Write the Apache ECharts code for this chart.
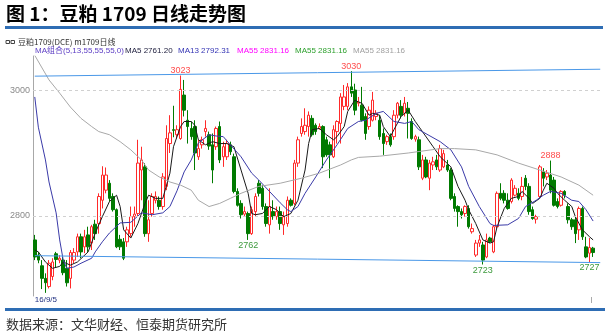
<!DOCTYPE html>
<html><head><meta charset="utf-8">
<script src="https://cdn.jsdelivr.net/npm/echarts@6/dist/echarts.min.js"></script>
<style>html,body{margin:0;padding:0;background:#fff}#c{width:611px;height:335px}</style>
</head><body><div id="c"></div>
<script>
// ---- data ----
// candles: [open, close, low, high]
const candles = [
[2762,2735,2730,2770],[2738,2730,2725,2743],[2721,2701,2684,2730],[2701,2694,2678,2709],[2688,2725,2685,2730],
[2704,2727,2698,2733],[2740,2731,2718,2743],[2730,2733,2725,2738],[2730,2710,2706,2735],[2717,2694,2688,2730],
[2701,2742,2685,2746],[2730,2742,2725,2749],[2743,2767,2735,2772],[2767,2743,2733,2772],[2751,2767,2741,2778],
[2770,2751,2743,2783],[2757,2783,2746,2786],[2787,2772,2762,2794],[2788,2831,2772,2836],[2825,2865,2812,2879],
[2841,2865,2836,2877],[2852,2828,2823,2857],[2831,2810,2807,2836],[2810,2751,2749,2812],[2763,2751,2746,2770],
[2759,2733,2730,2765],[2759,2778,2751,2783],[2772,2799,2767,2815],[2799,2803,2783,2815],[2804,2884,2799,2921],
[2873,2889,2825,2910],[2878,2772,2767,2884],[2772,2794,2759,2825],[2804,2831,2799,2836],[2825,2831,2820,2839],
[2825,2815,2810,2831],[2815,2862,2810,2868],[2847,2923,2841,2944],[2915,2932,2900,2960],[2937,2936,2925,2975],
[2929,2937,2923,2944],[2923,3001,2921,3023],[2992,2968,2958,3016],[2952,2942,2915,2968],[2939,2926,2921,2950],
[2942,2900,2873,2952],[2894,2907,2889,2921],[2913,2921,2907,2926],[2934,2939,2926,2952],[2929,2911,2905,2934],
[2913,2873,2852,2931],[2910,2939,2905,2942],[2942,2889,2884,2950],[2894,2910,2878,2918],[2894,2915,2889,2921],
[2913,2902,2897,2918],[2894,2839,2836,2899],[2839,2817,2815,2844],[2820,2802,2796,2825],[2803,2807,2799,2815],
[2804,2772,2762,2807],[2772,2810,2770,2815],[2807,2831,2799,2836],[2852,2836,2831,2857],[2844,2815,2810,2849],
[2815,2788,2783,2820],[2786,2815,2772,2844],[2807,2799,2794,2825],[2799,2807,2794,2815],[2807,2788,2778,2815],
[2786,2799,2770,2807],[2788,2825,2783,2831],[2825,2817,2815,2828],[2820,2884,2817,2889],[2884,2921,2878,2926],
[2931,2942,2926,2955],[2934,2944,2929,2971],[2942,2960,2926,2966],[2955,2929,2926,2960],[2944,2934,2929,2947],
[2939,2942,2937,2947],[2942,2894,2876,2944],[2921,2897,2894,2926],[2913,2897,2860,2918],[2894,2937,2892,2944],
[2934,2950,2915,2952],[2947,2989,2915,2995],[2974,2989,2968,3008],[2974,3005,2968,3011],[3005,2995,2989,3030],
[3000,2968,2960,3010],[2979,2981,2974,2989],[2976,2952,2950,3005],[2958,2931,2921,2963],[2942,2968,2937,2974],
[2952,2984,2950,2997],[2958,2963,2952,2968],[2952,2926,2921,2960],[2931,2915,2897,2939],[2918,2926,2913,2929],
[2926,2913,2910,2931],[2926,2960,2921,2968],[2960,2979,2955,2981],[2974,2960,2955,2984],[2963,2979,2958,2989],
[2971,2963,2923,2981],[2950,2923,2921,2955],[2922,2926,2918,2929],[2921,2878,2873,2926],[2860,2889,2857,2897],
[2889,2862,2860,2894],[2860,2884,2841,2889],[2881,2886,2873,2894],[2889,2878,2873,2897],[2873,2907,2870,2913],
[2878,2899,2876,2905],[2881,2873,2870,2889],[2873,2828,2825,2876],[2831,2812,2807,2836],[2815,2807,2783,2817],
[2807,2802,2796,2812],[2804,2815,2799,2817],[2812,2783,2780,2817],[2775,2780,2772,2788],[2738,2757,2735,2762],
[2757,2762,2751,2770],[2754,2730,2723,2759],[2735,2762,2733,2772],[2765,2759,2757,2767],[2743,2783,2741,2786],
[2783,2836,2780,2839],[2836,2828,2825,2852],[2836,2825,2820,2841],[2825,2812,2810,2836],[2823,2857,2820,2860],
[2833,2844,2831,2849],[2836,2828,2825,2844],[2831,2847,2825,2862],[2860,2847,2841,2865],[2847,2807,2802,2852],
[2810,2796,2794,2815],[2795,2799,2788,2802],[2831,2878,2828,2881],[2870,2860,2847,2876],[2862,2868,2857,2873],
[2865,2841,2836,2888],[2857,2817,2815,2862],[2823,2815,2812,2828],[2817,2839,2815,2841],[2839,2833,2828,2841],
[2815,2794,2788,2820],[2794,2783,2778,2797],[2794,2772,2757,2799],[2778,2812,2762,2815],[2812,2767,2762,2815],
[2751,2735,2733,2767],[2741,2750,2727,2765],[2749,2742,2735,2751]
];
const emptySlots = 2;
const dateLabels = ['16/9/5'];

// moving averages, read as [candle index, value]
const ma5 = [[0,2746],[1,2743],[3,2727],[5,2717],[7,2720],[8,2727],[10,2722],[12,2727],[15,2743],[17,2773],[19,2799],[21,2823],[23,2833],[24,2815],[25,2778],[27,2765],[29,2788],[31,2820],[32,2833],[34,2828],[36,2828],[38,2868],[39,2910],[41,2942],[42,2950],[44,2950],[45,2944],[46,2921],[48,2913],[50,2918],[52,2915],[54,2915],[56,2910],[58,2873],[60,2836],[61,2804],[62,2802],[64,2804],[66,2815],[68,2810],[69,2804],[70,2799],[72,2804],[74,2825],[76,2873],[77,2915],[78,2937],[80,2939],[82,2929],[84,2921],[85,2926],[87,2942],[88,2966],[90,2984],[91,2981],[92,2979],[94,2960],[95,2963],[97,2960],[98,2942],[100,2926],[101,2937],[103,2958],[105,2968],[107,2950],[109,2934],[112,2910],[114,2894],[117,2878],[119,2847],[121,2825],[122,2810],[124,2788],[126,2762],[128,2757],[129,2759],[130,2783],[132,2812],[134,2828],[136,2831],[137,2839],[139,2828],[140,2820],[142,2828],[143,2841],[144,2852],[146,2844],[147,2836],[149,2825],[151,2815],[152,2799],[154,2778],[156,2767],[157,2762]];
const ma13 = [[0,2989],[1,2941],[3,2889],[4,2854],[6,2805],[7,2762],[8,2730],[9,2717],[11,2719],[13,2725],[16,2733],[17,2743],[19,2759],[21,2773],[24,2789],[27,2790],[30,2805],[33,2802],[36,2805],[38,2815],[40,2840],[42,2870],[44,2889],[46,2916],[49,2929],[51,2927],[53,2926],[55,2913],[58,2894],[61,2868],[63,2857],[66,2839],[69,2821],[71,2810],[72,2807],[74,2815],[76,2836],[79,2862],[82,2889],[85,2913],[88,2939],[91,2950],[93,2952],[96,2963],[98,2966],[101,2950],[104,2947],[106,2950],[108,2937],[114,2918],[117,2905],[120,2878],[122,2847],[125,2815],[128,2788],[129,2785],[133,2786],[136,2796],[138,2815],[141,2825],[143,2833],[145,2839],[148,2836],[151,2825],[153,2823],[155,2810],[157,2792]];
const ma55 = [[0,3055],[4,3016],[7,2995],[10,2973],[13,2955],[16,2942],[18,2934],[21,2929],[24,2918],[27,2905],[30,2889],[32,2873],[35,2862],[38,2854],[41,2849],[44,2841],[46,2825],[49,2815],[52,2820],[55,2828],[58,2836],[63,2847],[69,2852],[75,2860],[80,2868],[86,2881],[89,2889],[91,2893],[97,2895],[105,2900],[114,2907],[118,2907],[124,2905],[130,2897],[136,2884],[142,2873],[148,2862],[153,2849],[157,2833]];

const resistanceLine = [3022, 3033];
const supportLine = [2737, 2726];
const gridValues = [2800, 3000];
const highMarks = [41, 89, 145];
const lowMarks = [60, 126, 156];

const legendTexts = ['MA组合(5,13,55,55,55,0)', 'MA5 2761.20', 'MA13 2792.31', 'MA55 2831.16', 'MA55 2831.16', 'MA55 2831.16'];
const titleText = '图 1：豆粕 1709 日线走势图';
const subTitleText = '豆粕1709(DCE) m1709日线';
const sourceText = '数据来源：文华财经、恒泰期货研究所';

// ---- chart ----
const total = candles.length + emptySlots;
const categories = Array.from({length: total}, (_, i) => dateLabels[i] !== undefined ? dateLabels[i] : '');
const chart = echarts.init(document.getElementById('c'), null, {renderer: 'canvas'});
const CJK = '"Noto Sans CJK SC", sans-serif';
const LAT = '"Liberation Sans","Noto Sans CJK SC", sans-serif';
const legendX = [35, 125, 178, 237, 295, 353];
const legendColors = ['#5b3cc4', '#1c1c3c', '#3434b4', '#ff00ff', '#2ea02e', '#a0a0a0'];

const graphics = [
  {type: 'text', left: 6, top: 4, style: {text: titleText, font: 'bold 19px ' + CJK, fill: '#000'}},
  {type: 'rect', shape: {x: 5, y: 26, width: 598, height: 3}, style: {fill: '#2e6db4'}},
  {type: 'rect', shape: {x: 6, y: 40.5, width: 3.5, height: 3}, style: {fill: 'none', stroke: '#444', lineWidth: 1}},
  {type: 'rect', shape: {x: 11, y: 40.5, width: 3.5, height: 3}, style: {fill: 'none', stroke: '#444', lineWidth: 1}},
  {type: 'text', x: 18, y: 42, style: {text: subTitleText, font: '8px ' + CJK, fill: '#333', verticalAlign: 'middle'}},
  {type: 'rect', shape: {x: 5, y: 308, width: 600, height: 3}, style: {fill: '#2e6db4'}},
  {type: 'text', x: 6, y: 324, style: {text: sourceText, font: '13px ' + CJK, fill: '#333', verticalAlign: 'middle'}},
  {type: 'line', shape: {x1: 591.5, y1: 297, x2: 591.5, y2: 303}, style: {stroke: '#aaa', lineWidth: 1}}
];
legendTexts.forEach((t, i) => {
  graphics.push({type: 'text', x: legendX[i], y: 51, style: {text: t, font: '8px ' + LAT, fill: legendColors[i], verticalAlign: 'middle'}});
});

const markData = [];
highMarks.forEach(i => markData.push({coord: [i, candles[i][3]], value: candles[i][3], label: {offset: [0, -5], color: '#ff4d4d'}}));
lowMarks.forEach(i => markData.push({coord: [i, candles[i][2]], value: candles[i][2], label: {offset: [0, 6], color: '#3d9a3d'}}));

chart.setOption({
  animation: false,
  backgroundColor: '#fff',
  grid: {left: 33, right: 9, top: 56, bottom: 39, containLabel: false},
  xAxis: {
    type: 'category', data: categories, boundaryGap: true,
    axisLine: {show: false}, axisTick: {show: false}, splitLine: {show: false},
    axisLabel: {interval: 0, align: 'left', margin: 0, fontSize: 8, color: '#203080', fontFamily: LAT}
  },
  yAxis: {
    type: 'value', min: 2673, max: 3054, scale: true,
    axisLine: {show: true, lineStyle: {color: '#a8a8a8', width: 1}},
    axisTick: {show: false}, axisLabel: {show: false}, splitLine: {show: false}
  },
  graphic: graphics,
  series: [
    {
      type: 'candlestick', data: candles, barWidth: 3,
      itemStyle: {color: '#ffffff', color0: '#007a00', borderColor: '#ff2a2a', borderColor0: '#007a00', borderWidth: 1},
      markLine: {
        silent: true, symbol: 'none',
        lineStyle: {color: '#d0d0d0', type: [3, 3], width: 1},
        label: {position: 'start', formatter: '{c}', color: '#8a8a8a', fontSize: 9, distance: 3, fontFamily: LAT},
        data: gridValues.map(v => ({yAxis: v}))
      },
      markPoint: {
        symbol: 'circle', symbolSize: 1, itemStyle: {color: 'rgba(0,0,0,0)'},
        label: {show: true, position: 'inside', formatter: '{c}', fontSize: 9, fontFamily: LAT},
        data: markData
      }
    },
    {type: 'line', data: ma5, symbol: 'none', lineStyle: {color: '#1a1a1a', width: 1}, z: 3},
    {type: 'line', data: ma13, symbol: 'none', lineStyle: {color: '#3a3aa8', width: 1}, z: 3},
    {type: 'line', data: ma55, symbol: 'none', lineStyle: {color: '#a8a8a8', width: 1}, z: 3},
    {type: 'line', data: [[0, resistanceLine[0]], [total - 1, resistanceLine[1]]], symbol: 'none', lineStyle: {color: '#4a98e8', width: 1}, z: 3},
    {type: 'line', data: [[0, supportLine[0]], [total - 1, supportLine[1]]], symbol: 'none', lineStyle: {color: '#4a98e8', width: 1}, z: 3}
  ]
});
</script>
</body></html>
